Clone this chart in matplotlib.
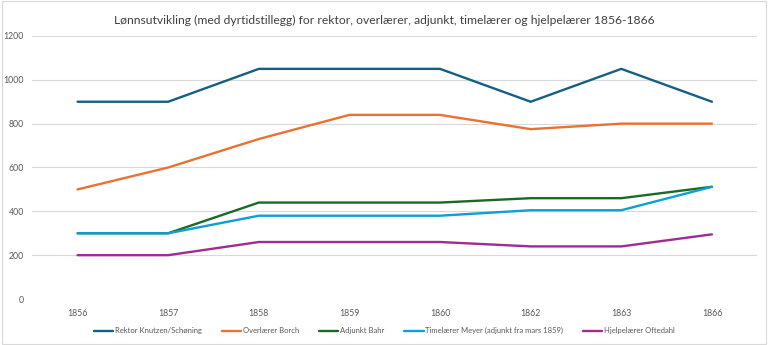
import matplotlib
matplotlib.use("Agg")
import matplotlib.pyplot as plt
from matplotlib.patches import Rectangle

plt.rcParams['font.family'] = ['Lato', 'DejaVu Sans']

years = ["1856", "1857", "1858", "1859", "1860", "1862", "1863", "1866"]
rektor = [900, 900, 1050, 1050, 1050, 900, 1050, 900]
overlaerer = [500, 600, 730, 840, 840, 775, 800, 800]
adjunkt = [300, 300, 440, 440, 440, 460, 460, 512]
timelaerer = [300, 300, 380, 380, 380, 405, 405, 512]
hjelpelaerer = [200, 200, 260, 260, 260, 240, 240, 295]

series = [
    ("Rektor Knutzen/Schøning", rektor, "#156082"),
    ("Overlærer Borch", overlaerer, "#E97132"),
    ("Adjunkt Bahr", adjunkt, "#196B24"),
    ("Timelærer Meyer (adjunkt fra mars 1859)", timelaerer, "#0F9ED5"),
    ("Hjelpelærer Oftedahl", hjelpelaerer, "#A02B93"),
]

fig = plt.figure(figsize=(7.68, 3.45), dpi=100)
ax = fig.add_axes([0.042, 0.1333, 0.944, 0.7624])

x = list(range(len(years)))
for name, vals, col in series:
    ax.plot(x, vals, color=col, lw=1.7, label=name, solid_capstyle='round')

ax.set_xlim(-0.5, len(years) - 0.5)
ax.set_ylim(0, 1200)
ax.set_yticks(range(0, 1201, 200))
ax.set_xticks(x)
ax.set_xticklabels(years)
ax.tick_params(axis='both', length=0, labelsize=6.3, colors="#595959")
ax.tick_params(axis='x', pad=7)
ax.tick_params(axis='y', pad=6)
ax.grid(axis='y', color="#D9D9D9", lw=0.8)
ax.set_axisbelow(True)
for s in ax.spines.values():
    s.set_visible(False)

fig.suptitle("Lønnsutvikling (med dyrtidstillegg) for rektor, overlærer, adjunkt, timelærer og hjelpelærer 1856-1866",
             y=0.958, fontsize=8.7, color="#404040")

fig.legend(loc='center', bbox_to_anchor=(0.5, 0.041), ncol=5, frameon=False,
           fontsize=5.5, labelcolor="#595959", handlelength=2.6, handletextpad=0.15,
           columnspacing=2.6)

fig.patches.append(Rectangle((0.002, 0.003), 0.995, 0.993, transform=fig.transFigure,
                             fill=False, edgecolor="#D9D9D9", lw=0.8))

fig.savefig("out.png", dpi=100)
